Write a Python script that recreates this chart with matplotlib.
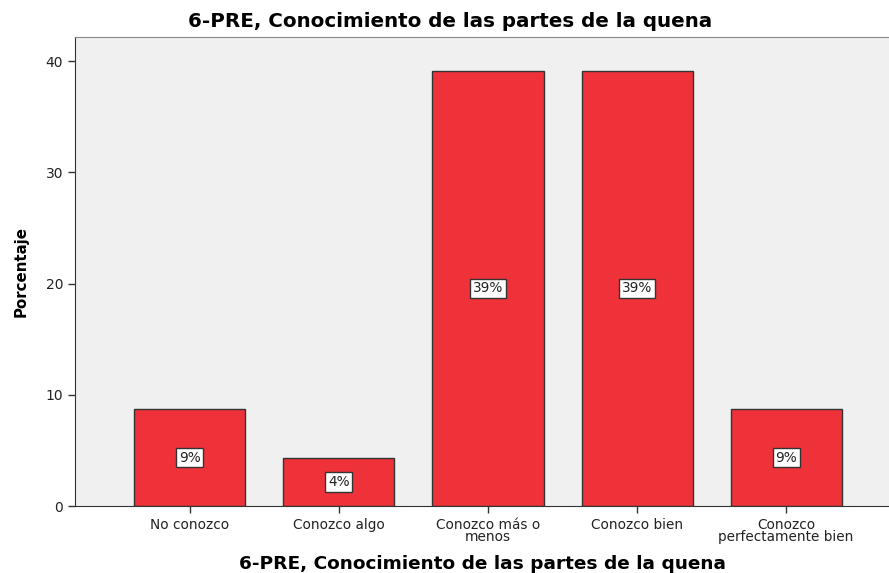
import matplotlib.pyplot as plt

categories = ["No conozco", "Conozco algo", "Conozco más o\nmenos",
              "Conozco bien", "Conozco\nperfectamente bien"]
values = [8.7, 4.35, 39.13, 39.13, 8.7]
labels = ["9%", "4%", "39%", "39%", "9%"]

fig = plt.figure(figsize=(8.89, 5.73), dpi=100)
ax = fig.add_axes([0.0844, 0.1169, 0.9156, 0.8185])
ax.set_facecolor('#f0f0f0')

x = range(len(categories))
ax.bar(x, values, width=0.745, color='#ef323a', edgecolor='#333333', linewidth=1)

for i, v in enumerate(values):
    ax.text(i, v / 2, labels[i], ha='center', va='center', fontsize=9.8,
            family='DejaVu Sans', color='#222222',
            bbox=dict(boxstyle='square,pad=0.2', facecolor='white',
                      edgecolor='#333333', linewidth=1))

ax.set_xlim(-0.77, 4.69)
ax.set_ylim(0, 42.16)
ax.set_yticks([0, 10, 20, 30, 40])
ax.set_xticks(list(x))
ax.set_xticklabels(categories, fontsize=9.8, family='DejaVu Sans',
                   linespacing=0.85, color='#222222')
for t in ax.get_yticklabels():
    t.set_family('DejaVu Sans')
    t.set_fontsize(10)
    t.set_color('#222222')
ax.tick_params(length=5, width=1, color='#333333')

ax.spines['right'].set_visible(False)
ax.spines['top'].set_color('#888888')
ax.spines['left'].set_color('#333333')
ax.spines['bottom'].set_color('#333333')

ax.set_ylabel("Porcentaje", fontsize=10.8, fontweight='bold',
              family='DejaVu Sans', labelpad=12)
ax.set_xlabel("6-PRE, Conocimiento de las partes de la quena", fontsize=13.3,
              fontweight='bold', family='DejaVu Sans', labelpad=8)
fig.text(0.506, 0.963, "6-PRE, Conocimiento de las partes de la quena",
         ha='center', va='center', fontsize=14.3, fontweight='bold',
         family='DejaVu Sans')

fig.savefig('out.png', dpi=100)
